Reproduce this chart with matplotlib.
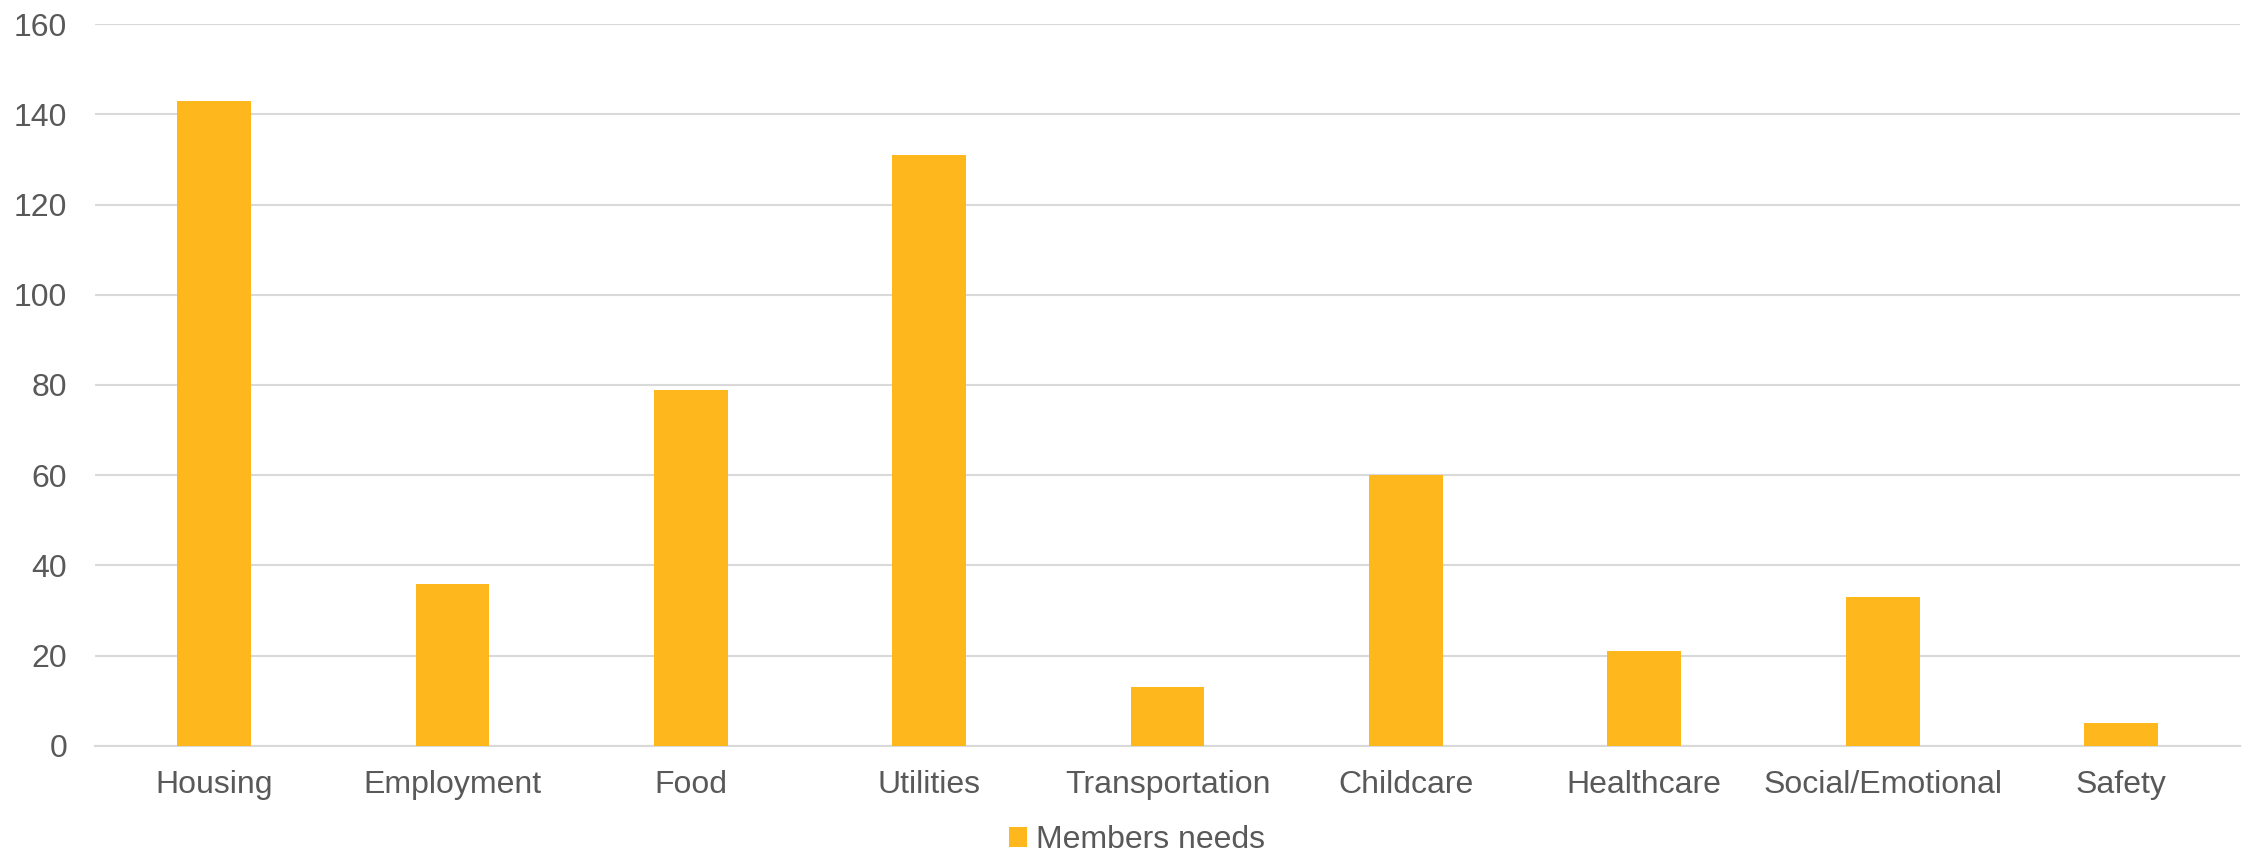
import matplotlib.pyplot as plt

plt.rcParams['font.family'] = ['Liberation Sans', 'DejaVu Sans']

# ========== data ==========
categories = ["Housing", "Employment", "Food", "Utilities", "Transportation",
              "Childcare", "Healthcare", "Social/Emotional", "Safety"]
members_needs = [143, 36, 79, 131, 13, 60, 21, 33, 5]
y_ticks = [0, 20, 40, 60, 80, 100, 120, 140, 160]
# ==========================

bar_color = "#FFB71E"
text_color = "#595959"
grid_color = "#D9D9D9"

fig = plt.figure(figsize=(22.52, 8.61), dpi=100)
ax = fig.add_axes([0.0422, 0.1336, 0.9525, 0.8385])

x = range(len(categories))
ax.bar(x, members_needs, width=0.31, color=bar_color, label="Members needs", zorder=3)

ax.set_xlim(-0.5, len(categories) - 0.5)
ax.set_ylim(0, 160)
ax.set_yticks(y_ticks)
ax.set_xticks(list(x))
ax.set_xticklabels(categories)

ax.yaxis.grid(True, color=grid_color, linewidth=1.5, zorder=0)
ax.set_axisbelow(True)
for side in ["top", "right", "left"]:
    ax.spines[side].set_visible(False)
ax.spines["bottom"].set_color(grid_color)
ax.spines["bottom"].set_linewidth(1.5)

ax.tick_params(axis="both", length=0, labelsize=23, colors=text_color)
ax.tick_params(axis="y", pad=20)
ax.tick_params(axis="x", pad=17)

fig.legend(loc="center", bbox_to_anchor=(0.505, 0.024), frameon=False,
           fontsize=23, labelcolor=text_color, handlelength=0.55, handleheight=0.55,
           handletextpad=0.3)

fig.savefig("out.png", dpi=100)
